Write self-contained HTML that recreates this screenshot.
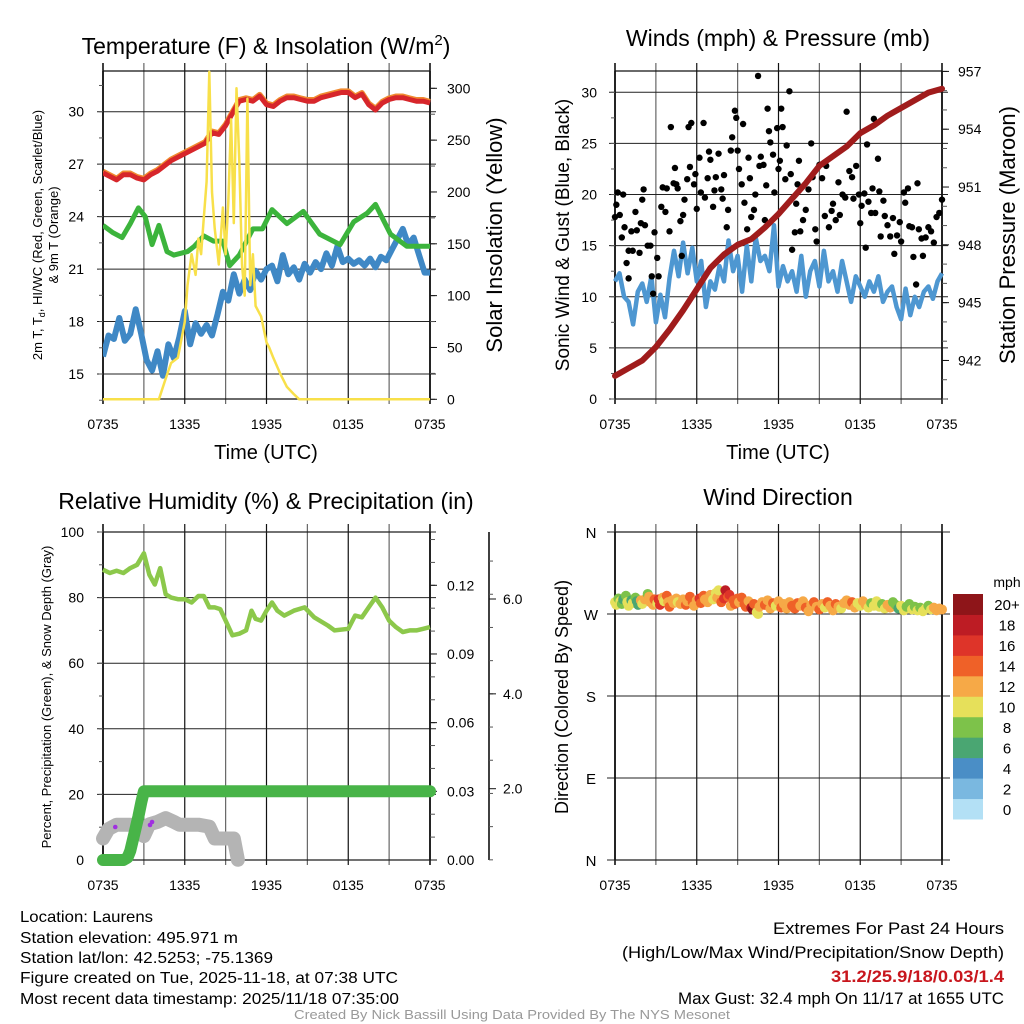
<!DOCTYPE html>
<html><head><meta charset="utf-8"><style>
html,body{margin:0;padding:0;background:#fff;}
svg{display:block;font-family:"Liberation Sans",Arial,sans-serif;}
</style></head><body>
<svg id="c" width="1024" height="1024" viewBox="0 0 1024 1024" xmlns="http://www.w3.org/2000/svg">
<rect width="1024" height="1024" fill="#fff"/>
<text x="266" y="54" font-size="23" text-anchor="middle">Temperature (F) &amp; Insolation (W/m<tspan dy="-9" font-size="15">2</tspan><tspan dy="9">)</tspan></text>
<text x="778" y="46" font-size="23" text-anchor="middle">Winds (mph) &amp; Pressure (mb)</text>
<text x="266" y="509" font-size="23" text-anchor="middle">Relative Humidity (%) &amp; Precipitation (in)</text>
<text x="778" y="505" font-size="23" text-anchor="middle">Wind Direction</text>

<text transform="translate(42,235) rotate(-90)" font-size="13" text-anchor="middle">2m T, T<tspan font-size="9" dy="3">d</tspan><tspan dy="-3">, HI/WC (Red, Green, Scarlet/Blue)</tspan></text>
<text transform="translate(58,235) rotate(-90)" font-size="13" text-anchor="middle">&amp; 9m T (Orange)</text>
<text transform="translate(502,235) rotate(-90)" font-size="22" text-anchor="middle">Solar Insolation (Yellow)</text>
<text x="266" y="459" font-size="20" text-anchor="middle">Time (UTC)</text>

<text transform="translate(569,235) rotate(-90)" font-size="19" text-anchor="middle">Sonic Wind &amp; Gust (Blue, Black)</text>
<text transform="translate(1015,235) rotate(-90)" font-size="22" text-anchor="middle">Station Pressure (Maroon)</text>
<text x="778" y="459" font-size="20" text-anchor="middle">Time (UTC)</text>

<text transform="translate(51,697) rotate(-90)" font-size="13" text-anchor="middle">Percent, Precipitation (Green), &amp; Snow Depth (Gray)</text>
<text transform="translate(568,697) rotate(-90)" font-size="18" text-anchor="middle">Direction (Colored By Speed)</text>
<text x="1007" y="587" font-size="14" text-anchor="middle">mph</text>

<g font-size="16">
<text x="20" y="922" textLength="133" lengthAdjust="spacingAndGlyphs">Location: Laurens</text>
<text x="20" y="943" textLength="218" lengthAdjust="spacingAndGlyphs">Station elevation: 495.971 m</text>
<text x="20" y="963" textLength="253" lengthAdjust="spacingAndGlyphs">Station lat/lon: 42.5253; -75.1369</text>
<text x="20" y="983" textLength="378" lengthAdjust="spacingAndGlyphs">Figure created on Tue, 2025-11-18, at 07:38 UTC</text>
<text x="20" y="1004" textLength="379" lengthAdjust="spacingAndGlyphs">Most recent data timestamp: 2025/11/18 07:35:00</text>
</g>
<g font-size="17">
<text x="773" y="934" textLength="231" lengthAdjust="spacingAndGlyphs">Extremes For Past 24 Hours</text>
<text x="622" y="958" textLength="382" lengthAdjust="spacingAndGlyphs">(High/Low/Max Wind/Precipitation/Snow Depth)</text>
<text x="831" y="982" textLength="173" lengthAdjust="spacingAndGlyphs" fill="#c8161d" font-weight="bold">31.2/25.9/18/0.03/1.4</text>
<text x="678" y="1004" textLength="326" lengthAdjust="spacingAndGlyphs">Max Gust: 32.4 mph On 11/17 at 1655 UTC</text>
</g>
<text x="512" y="1019" font-size="13" fill="#999" text-anchor="middle" textLength="436" lengthAdjust="spacingAndGlyphs">Created By Nick Bassill Using Data Provided By The NYS Mesonet</text>
</svg>
<script>
// ---- data ----
const timeTickLabels = ["0735","1335","1935","0135","0735"];
const tempTicks = [15,18,21,24,27,30];
const insolTicks = [0,50,100,150,200,250,300];
const windTicks = [0,5,10,15,20,25,30];
const presTicks = [942,945,948,951,954,957];
const rhTicks = [0,20,40,60,80,100];
const precipTicks = [0,0.03,0.06,0.09,0.12];
const snowTicks = [2,4,6];
const dirLabels = ["N","E","S","W","N"];
const cbarLabels = ["0","2","4","6","8","10","12","14","16","18","20+"];
const cbarColors = ["#b3e0f5","#7ab8e0","#4a8ec6","#4aa672","#7dc24a","#e6e05a","#f6a947","#ef6128","#de3429","#bd1c24","#8e1519"];

const tempHours = [0,0.5,1,1.5,2,2.5,3,3.5,4,4.5,5,5.5,6,6.5,7,7.5,8,8.5,9,9.5,10,10.5,11,11.5,12,12.5,13,13.5,14,14.5,15,15.5,16,16.5,17,17.5,18,18.5,19,19.5,20,20.5,21,21.5,22,22.5,23,23.5,24];
const tempVals = [26.5,26.3,26.1,26.4,26.4,26.2,26.1,26.4,26.6,26.9,27.2,27.4,27.6,27.8,28.0,28.2,28.8,28.7,29.2,29.9,30.6,30.7,30.6,30.9,30.4,30.3,30.6,30.8,30.8,30.7,30.6,30.6,30.8,30.9,31.0,31.1,31.1,30.8,31.0,30.4,30.1,30.5,30.7,30.8,30.8,30.7,30.6,30.6,30.5];
const hiHours = [0,0.7,1.4,2,2.6,3.1,3.6,4.1,4.7,5.2,6.2,6.7,7.4,8.1,8.8,9.3,10,11,11.7,12.4,13.5,14.7,15.9,17.4,18.4,19.4,20,21.1,22.3,24];
const hiVals = [23.5,23.1,22.8,23.6,24.5,24.0,22.4,23.5,22.0,21.8,22.0,22.3,22.9,22.6,22.6,21.2,21.8,23.3,23.3,24.4,23.6,24.3,23.0,22.4,23.7,24.2,24.7,23.0,22.3,22.3];
const dewHours = [0,0.4,0.8,1.2,1.6,2,2.4,2.8,3.2,3.6,4,4.4,4.8,5.2,5.6,6,6.4,6.8,7.2,7.6,8,8.4,8.8,9.2,9.6,10,10.4,10.8,11.2,11.6,12,12.4,12.8,13.2,13.6,14,14.4,14.8,15.2,15.6,16,16.4,16.8,17.2,17.6,18,18.4,18.8,19.2,19.6,20,20.4,20.8,21.2,21.6,22,22.4,22.8,23.2,23.6,24];
const dewVals = [16,17.2,17,18.2,16.9,17.3,18.7,17.3,15.8,15.2,16.3,14.9,16.7,15.9,17.1,18.6,16.7,17.9,17.3,17.8,17.2,18.4,19.7,19.2,20.7,19.6,20.4,19.8,20.9,20.4,21.0,21.2,20.3,21.8,20.7,21.1,20.4,21.3,20.8,21.4,21.0,21.9,21.2,22.3,21.4,21.6,21.3,21.5,21.2,21.6,21.1,21.7,21.5,22.1,22.7,23.3,22.4,22.8,21.8,20.8,20.8];
const solarHours = [0,4.1,4.6,5,5.5,6,6.2,6.5,6.8,7,7.2,7.4,7.6,7.8,8,8.2,8.5,8.8,9,9.2,9.4,9.6,9.8,10,10.2,10.4,10.6,10.8,11,11.2,11.6,12,12.2,12.5,13,13.5,14,14.4,24];
const solarVals = [0,0,20,35,40,75,110,140,120,155,140,175,210,316,200,165,130,185,140,190,270,170,300,230,130,100,290,110,140,90,80,55,50,40,25,12,5,0,0];

const windHours = [0,0.33,0.67,1,1.33,1.67,2,2.33,2.67,3,3.33,3.67,4,4.33,4.67,5,5.33,5.67,6,6.33,6.67,7,7.33,7.67,8,8.33,8.67,9,9.33,9.67,10,10.33,10.67,11,11.33,11.67,12,12.33,12.67,13,13.33,13.67,14,14.33,14.67,15,15.33,15.67,16,16.33,16.67,17,17.33,17.67,18,18.33,18.67,19,19.33,19.67,20,20.33,20.67,21,21.33,21.67,22,22.33,22.67,23,23.33,23.67,24];
const windVals = [11.5,12.3,10,9.5,7.3,10.5,11.3,9.5,12,7.5,10.2,8,11.8,14.5,12,15.3,12.3,14.8,11.5,13.5,9,11.5,10.7,13,11.5,15.5,12.5,14,10.5,15,11.5,15.8,13.5,14,12.5,17,11,13,11.5,12.5,10.5,14,10,12.5,13.5,11,14.5,11.5,12.5,10.5,13.5,11.5,9.5,12,11,10,11.5,10.5,12,9.5,10.5,11,9,7.8,10.8,8.2,10,9,10.5,11,9.8,11.5,12.3];
const presHours = [0,1,2,3,4,5,6,7,8,9,10,11,12,13,14,15,16,17,18,19,20,21,22,23,24];
const presVals = [941.2,941.6,942.0,942.7,943.6,944.6,945.7,946.8,947.5,948.0,948.3,948.9,949.6,950.4,951.2,952.1,952.6,953.1,953.8,954.2,954.7,955.1,955.5,955.9,956.1];
const gustHours = [0,0.1,0.2,0.35,0.5,0.6,0.7,0.85,1.0,1.0,1.2,1.3,1.5,1.6,1.8,1.9,2.0,2.1,2.2,2.4,2.6,2.7,2.8,2.9,3.1,3.2,3.4,3.5,3.7,3.8,4.0,4.1,4.3,4.4,4.5,4.6,4.8,4.9,5.0,5.1,5.3,5.4,5.5,5.6,5.8,5.9,6.0,6.2,6.3,6.5,6.6,6.8,6.9,7.0,7.2,7.3,7.4,7.6,7.8,7.9,8.0,8.2,8.3,8.5,8.6,8.8,8.9,9.0,9.1,9.3,9.4,9.5,9.7,9.8,9.9,10.0,10.2,10.3,10.5,10.6,10.7,10.9,11.0,11.1,11.2,11.3,11.4,11.6,11.7,11.9,12.0,12.1,12.2,12.3,12.5,12.6,12.8,12.9,13.0,13.2,13.3,13.4,13.5,13.6,13.8,14.0,14.2,14.4,14.5,14.7,14.8,15.0,15.2,15.4,15.5,15.7,15.9,16.0,16.2,16.4,16.5,16.7,16.9,17.0,17.2,17.4,17.5,17.7,17.9,18.0,18.1,18.3,18.4,18.5,18.6,18.8,18.9,19.0,19.1,19.3,19.4,19.5,19.7,19.8,20.0,20.2,20.4,20.5,20.7,20.9,21.0,21.2,21.3,21.5,21.6,21.8,21.9,22.1,22.2,22.3,22.5,22.6,22.8,23.0,23.2,23.4,23.6,23.8,24.0];
const gustVals = [17.8,19,20.2,18,15.8,20,16.8,13.3,11.8,14.5,16.4,14.5,18.3,16.5,14.3,17.2,19.5,20.5,17,15,15,12,10.3,16.3,13.8,12,18.8,20.7,18.3,20.6,16.4,26.6,21.1,22.6,21,20.6,17.4,14,18,19.5,21.5,26.6,22.7,27,21,22,18.6,23.6,20.2,27,19.7,21.6,24.2,23.4,18.8,20.4,21.7,24.0,20.5,19.6,21.9,16.8,18.5,24.3,25.6,28.2,27.5,24.3,22.5,21,26.9,19.2,16.6,23.6,21.6,17.8,18.5,20,31.6,22.8,23.7,22.9,17.5,20.9,28.4,26.2,25.1,23.9,20.2,26.5,22.5,23.3,28.4,26.6,21.5,24.8,30.1,22,14.6,16.3,19.1,21,23.3,16.4,17.5,18.5,20.5,25,21.7,16.6,15.4,22.9,21.6,17.9,22.8,16.8,18.4,19.1,17.5,21.2,18,20,19.7,28.1,22.3,21.7,19.6,22.8,20,17.2,18.9,20.1,14.8,24.9,19.3,18.2,20.6,27.4,18.2,23.5,20.3,15.9,19.4,17.9,17,15.9,17.7,14.2,16,17.3,15.4,20.2,19.2,20.6,16.9,16.8,13.9,11.2,21.1,16.6,15.7,14,15.8,16.8,16.4,15.3,17.8,18.2,19.5];

const rhHours = [0,0.5,1,1.5,2,2.5,3,3.4,3.8,4.2,4.6,5,5.5,6,6.5,7,7.4,7.8,8.2,8.6,9,9.5,10,10.5,10.9,11.2,11.6,12,12.4,12.8,13.3,14,14.8,15.5,16.5,17,18,18.5,19,19.5,20,20.5,21,21.5,22,22.5,23,23.5,24];
const rhVals = [88.5,87.5,88.2,87.5,89,90,93.5,87,84,89,81,80,79.5,79.5,78.5,80.5,80.5,77,77,76.5,73,68.5,69,70,76,73.5,73,76,78.5,76,74.5,76,77,74,71.5,70,70.5,74.5,74,77,80,77,73,71,69.5,70,70,70.5,71];
const precipHours = [0,0.3,0.6,0.9,1.2,1.5,1.8,2.0,2.2,2.4,2.6,2.8,3.0,3.5,4,5,6,8,10,12,14,16,18,20,22,24];
const precipVals = [0,0,0,0,0,0,0.001,0.004,0.009,0.014,0.019,0.025,0.03,0.03,0.03,0.03,0.03,0.03,0.03,0.03,0.03,0.03,0.03,0.03,0.03,0.03];
const snowHours = [0,0.4,1,2,2.6,3,3.4,4,4.6,5.2,5.6,7,7.8,8.2,8.6,9.6,9.9];
const snowVals = [0.95,1.15,1.24,1.24,1.2,1.0,1.25,1.3,1.38,1.3,1.24,1.24,1.2,0.95,0.95,0.95,0.5];

const dirObs = [[0.0,283,11],[0.1,280,10],[0.25,287,9],[0.4,284,10],[0.5,281,8],[0.6,286,7],[0.8,290,8],[0.9,283,10],[1.0,279,11],[1.2,285,6],[1.3,282,10],[1.5,288,8],[1.6,284,7],[1.7,280,6],[1.9,285,12],[2.0,281,10],[2.2,286,12],[2.4,292,8],[2.5,289,12],[2.6,283,13],[2.8,280,12],[2.9,286,14],[3.1,282,11],[3.2,286,16],[3.3,280,16],[3.5,288,12],[3.6,284,10],[3.8,290,14],[3.9,283,12],[4.0,278,14],[4.2,285,13],[4.3,282,12],[4.5,287,12],[4.6,283,11],[4.8,281,13],[5.0,286,12],[5.2,280,14],[5.3,284,13],[5.5,289,14],[5.7,283,15],[5.8,279,12],[6.0,285,13],[6.2,287,16],[6.3,282,15],[6.5,290,14],[6.6,286,13],[6.8,283,12],[7.0,291,12],[7.2,286,10],[7.4,293,10],[7.5,288,12],[7.6,296,10],[7.8,283,15],[8.0,287,17],[8.1,296,18],[8.3,289,14],[8.4,291,16],[8.5,279,13],[8.7,285,14],[8.8,281,15],[9.0,287,14],[9.1,283,12],[9.3,288,15],[9.5,281,14],[9.6,278,14],[9.8,284,13],[10.0,277,19],[10.1,275,20],[10.2,281,15],[10.4,272,11],[10.5,270,10],[10.6,278,13],[10.8,283,12],[11.0,280,15],[11.2,285,12],[11.4,276,12],[11.6,282,14],[11.8,279,10],[12.0,284,12],[12.2,277,14],[12.4,281,13],[12.6,276,12],[12.8,283,12],[13.0,279,14],[13.2,276,15],[13.4,282,14],[13.6,279,12],[13.8,284,13],[14.0,277,15],[14.2,273,12],[14.4,280,12],[14.6,283,14],[14.8,278,13],[15.0,275,15],[15.2,281,12],[15.4,277,11],[15.6,283,15],[15.8,279,12],[16.0,274,13],[16.2,281,14],[16.4,278,12],[16.6,276,11],[16.8,282,13],[17.0,285,12],[17.2,280,13],[17.4,283,14],[17.6,277,12],[17.8,282,11],[18.0,279,10],[18.2,284,12],[18.4,280,13],[18.6,277,10],[18.8,282,9],[19.0,279,10],[19.2,284,11],[19.4,278,10],[19.6,281,9],[19.8,276,10],[20.0,280,12],[20.2,277,13],[20.4,283,8],[20.6,280,9],[20.8,276,7],[21.0,279,10],[21.2,274,11],[21.4,278,9],[21.6,281,8],[21.8,275,10],[22.0,278,9],[22.2,274,10],[22.4,277,8],[22.6,273,11],[22.8,276,10],[23.0,279,9],[23.2,275,10],[23.4,277,12],[23.6,274,13],[23.8,276,12],[24.0,275,12]];

// ---- helpers ----
const NS = "http://www.w3.org/2000/svg";
const svg = document.getElementById("c");
function mk(tag, attrs, parent){ const e=document.createElementNS(NS,tag); for(const k in attrs) e.setAttribute(k,attrs[k]); (parent||svg).appendChild(e); return e; }
function lin(d0,d1,r0,r1){ return v => r0 + (v-d0)/(d1-d0)*(r1-r0); }
function pathOf(xs, ys, fx, fy){ return xs.map((h,i)=>(i?"L":"M")+fx(h).toFixed(1)+","+fy(ys[i]).toFixed(1)).join(""); }

function frame(g, L, R, T, B){
  const fx = lin(0,24,L,R);
  for(let h=0; h<=24; h+=3){
    const ln = mk("line",{x1:fx(h),x2:fx(h),y1:T-8,y2:B+5,stroke:(h%6===0?"#111":"#666"),"stroke-width":(h===0||h===24)?1.6:1.2},g);
    
    
  }
  mk("line",{x1:L,x2:R,y1:T,y2:T,stroke:"#111","stroke-width":1.2},g);
  mk("line",{x1:L,x2:R,y1:B,y2:B,stroke:"#111","stroke-width":1.2},g);
  timeTickLabels.forEach((t,i)=>{
    const tx = mk("text",{x:fx(i*6),y:B+30,"font-size":14,"text-anchor":"middle"},g);
    tx.textContent=t;
    
    
  });
  return fx;
}
function hgrid(g,L,R,ticks,fy,ext){
  ticks.forEach(v=>{
    const ln = mk("line",{x1:L-ext,x2:R+(ext>0?6:0),y1:fy(v),y2:fy(v),stroke:"#222","stroke-width":1},g);
    
    
  });
}
function labels(g,ticks,fy,x,anchor,fmt,size,name){
  ticks.forEach(v=>{
    const t = mk("text",{x:x,y:fy(v)+5,"font-size":size||14,"text-anchor":anchor},g);
    t.textContent = fmt?fmt(v):String(v);
    
    
  });
}
function minor(g,x,from,to,step,fy,len){
  for(let v=from; v<=to+1e-9; v+=step){ mk("line",{x1:x,x2:x+len,y1:fy(v),y2:fy(v),stroke:"#555","stroke-width":1},g); }
}

// ---- Panel 1: temperature ----
{
  const g = mk("g",{});  
  const L=103,R=430,T=71,B=399;
  const fx = frame(g,L,R,T,B);
  const fy = lin(15,30,374,111.7);
  const fs = lin(0,300,399.3,88.3);
  hgrid(g,L,R,tempTicks,fy,6);
  mk("line",{x1:L,x2:L,y1:T,y2:B,stroke:"#111","stroke-width":1.6},g);
  mk("line",{x1:R,x2:R,y1:T,y2:B,stroke:"#111","stroke-width":1.6},g);
  minor(g,L,13.5,32,1.5,fy,-4);
  minor(g,R,0,316,25,fs,5);
  insolTicks.forEach(v=>mk("line",{x1:R,x2:R+7,y1:fs(v),y2:fs(v),stroke:"#111"},g));
  labels(g,tempTicks,fy,84,"end",null,14,'temp-tick-label');
  labels(g,insolTicks,fs,447,"start",null,14,'insolation-tick-label');
  const cp = mk("clipPath",{id:"cp1"}); mk("rect",{x:L,y:T-20,width:R-L+3,height:B-T+22},cp);
  const d = mk("g",{"clip-path":"url(#cp1)"},g);
  const dew = mk("path",{d:pathOf(dewHours,dewVals,fx,fy),fill:"none",stroke:"#3f88c5","stroke-width":6,"stroke-linejoin":"round"},d);
   
  const hi = mk("path",{d:pathOf(hiHours,hiVals,fx,fy),fill:"none",stroke:"#3cb43c","stroke-width":5,"stroke-linejoin":"round"},d);
   
  const t9 = mk("path",{d:pathOf(tempHours,tempVals.map(v=>v+0.08),fx,fy),fill:"none",stroke:"#f08a30","stroke-width":5.5,"stroke-linejoin":"round"},d);
   
  const t2 = mk("path",{d:pathOf(tempHours,tempVals,fx,fy),fill:"none",stroke:"#d7262b","stroke-width":5,"stroke-linejoin":"round"},d);
   
  const so = mk("path",{d:pathOf(solarHours,solarVals,fx,fs),fill:"none",stroke:"#f8e04a","stroke-width":2.5,"stroke-linejoin":"round"},d);
   
}

// ---- Panel 2: winds ----
{
  const g = mk("g",{});  
  const L=615,R=942,T=71,B=399;
  const fx = frame(g,L,R,T,B);
  const fy = lin(0,30,399,92.3);
  const fp = lin(940,957,399,71.4);
  hgrid(g,L,R,windTicks,fy,6);
  mk("line",{x1:L,x2:L,y1:T,y2:B,stroke:"#111","stroke-width":1.6},g);
  mk("line",{x1:R,x2:R,y1:T,y2:B,stroke:"#111","stroke-width":1.6},g);
  minor(g,L,0,32,2.5,fy,-4);
  minor(g,R,940,957,1,fp,5);
  presTicks.forEach(v=>mk("line",{x1:R,x2:R+7,y1:fp(v),y2:fp(v),stroke:"#111"},g));
  labels(g,windTicks,fy,597,"end",null,14,'wind-tick-label');
  labels(g,presTicks,fp,958,"start",null,14,'pressure-tick-label');
  const w = mk("path",{d:pathOf(windHours,windVals,fx,fy),fill:"none",stroke:"#4e97d1","stroke-width":4.5,"stroke-linejoin":"round"},g);
   
  gustHours.forEach((h,i)=>{
    const c = mk("circle",{cx:fx(h),cy:fy(gustVals[i]),r:3.2,fill:"#000"},g);
    
    
  });
  const p = mk("path",{d:pathOf(presHours,presVals,fx,fp),fill:"none",stroke:"#a01c1c","stroke-width":6,"stroke-linejoin":"round","stroke-linecap":"round"},g);
   
}

// ---- Panel 3: RH & precip ----
{
  const g = mk("g",{});  
  const L=103,R=430,T=532,B=860;
  const fx = frame(g,L,R,T,B);
  const fy = lin(0,100,860,532);
  const fpr = lin(0,0.12,860,585.3);
  const fsn = lin(2,6,788.7,599);
  hgrid(g,L,R,rhTicks,fy,6);
  mk("line",{x1:L,x2:L,y1:T,y2:B,stroke:"#111","stroke-width":1.6},g);
  mk("line",{x1:R,x2:R,y1:T,y2:B,stroke:"#111","stroke-width":1.6},g);
  minor(g,L,0,100,10,fy,-4);
  minor(g,R,0,0.14,0.01,fpr,5);
  precipTicks.forEach(v=>mk("line",{x1:R,x2:R+7,y1:fpr(v),y2:fpr(v),stroke:"#111"},g));
  labels(g,rhTicks,fy,84,"end",null,14,'rh-tick-label');
  labels(g,precipTicks,fpr,447,"start",v=>v.toFixed(2),14,'precip-tick-label');
  mk("line",{x1:489,x2:489,y1:T,y2:B,stroke:"#111","stroke-width":1.6},g);
  minor(g,489,0.5,6.9,0.7,fsn,4);
  snowTicks.forEach(v=>mk("line",{x1:489,x2:496,y1:fsn(v),y2:fsn(v),stroke:"#111"},g));
  labels(g,snowTicks,fsn,503,"start",v=>v.toFixed(1),14,'snow-tick-label');
  const sn = mk("path",{d:pathOf(snowHours,snowVals,fx,fsn),fill:"none",stroke:"#b4b4b4","stroke-width":14,"stroke-linejoin":"round","stroke-linecap":"round"},g);
   
  const pr = mk("path",{d:pathOf(precipHours,precipVals,fx,fpr),fill:"none",stroke:"#48b448","stroke-width":12,"stroke-linejoin":"round","stroke-linecap":"round"},g);
   
  [[0.9,827],[3.45,825],[3.6,822]].forEach(p=>{ const c=mk("circle",{cx:fx(p[0]),cy:p[1],r:2.3,fill:"#a030e0"},g);   });
  const rh = mk("path",{d:pathOf(rhHours,rhVals,fx,fy),fill:"none",stroke:"#8cc84b","stroke-width":4.5,"stroke-linejoin":"round"},g);
   
}

// ---- Panel 4: wind direction ----
{
  const g = mk("g",{});  
  const L=615,R=942,T=532,B=860;
  const fx = frame(g,L,R,T,B);
  const fd = lin(0,360,860,532);
  dirLabels.forEach((lb,i)=>{
    const v=i*90;
    mk("line",{x1:L-8,x2:R+8,y1:fd(v),y2:fd(v),stroke:"#222","stroke-width":1},g);
    const t = mk("text",{x:591,y:fd(v)+6,"font-size":15,"text-anchor":"middle"},g);
    t.textContent = lb;
    
    
  });
  mk("line",{x1:L,x2:L,y1:T,y2:B,stroke:"#111","stroke-width":1.6},g);
  mk("line",{x1:R,x2:R,y1:T,y2:B,stroke:"#111","stroke-width":1.6},g);
  dirObs.forEach(o=>{
    const ci = Math.min(10, Math.floor(o[2]/2));
    const c = mk("circle",{cx:fx(o[0]),cy:fd(o[1]),r:5,fill:cbarColors[ci]},g);
    
    
  });
  const cb = mk("g",{},g);  
  const cbTop=594, cbH=225/11;
  cbarColors.forEach((col,i)=>{
    const y = cbTop + (10-i)*cbH;
    const r = mk("rect",{x:953,y:y,width:30,height:cbH+0.5,fill:col},cb);
    
    
    const t = mk("text",{x:1007,y:y+cbH/2+6,"font-size":15,"text-anchor":"middle"},cb);
    t.textContent = cbarLabels[i];
    
    
  });
}
</script>
</body></html>
